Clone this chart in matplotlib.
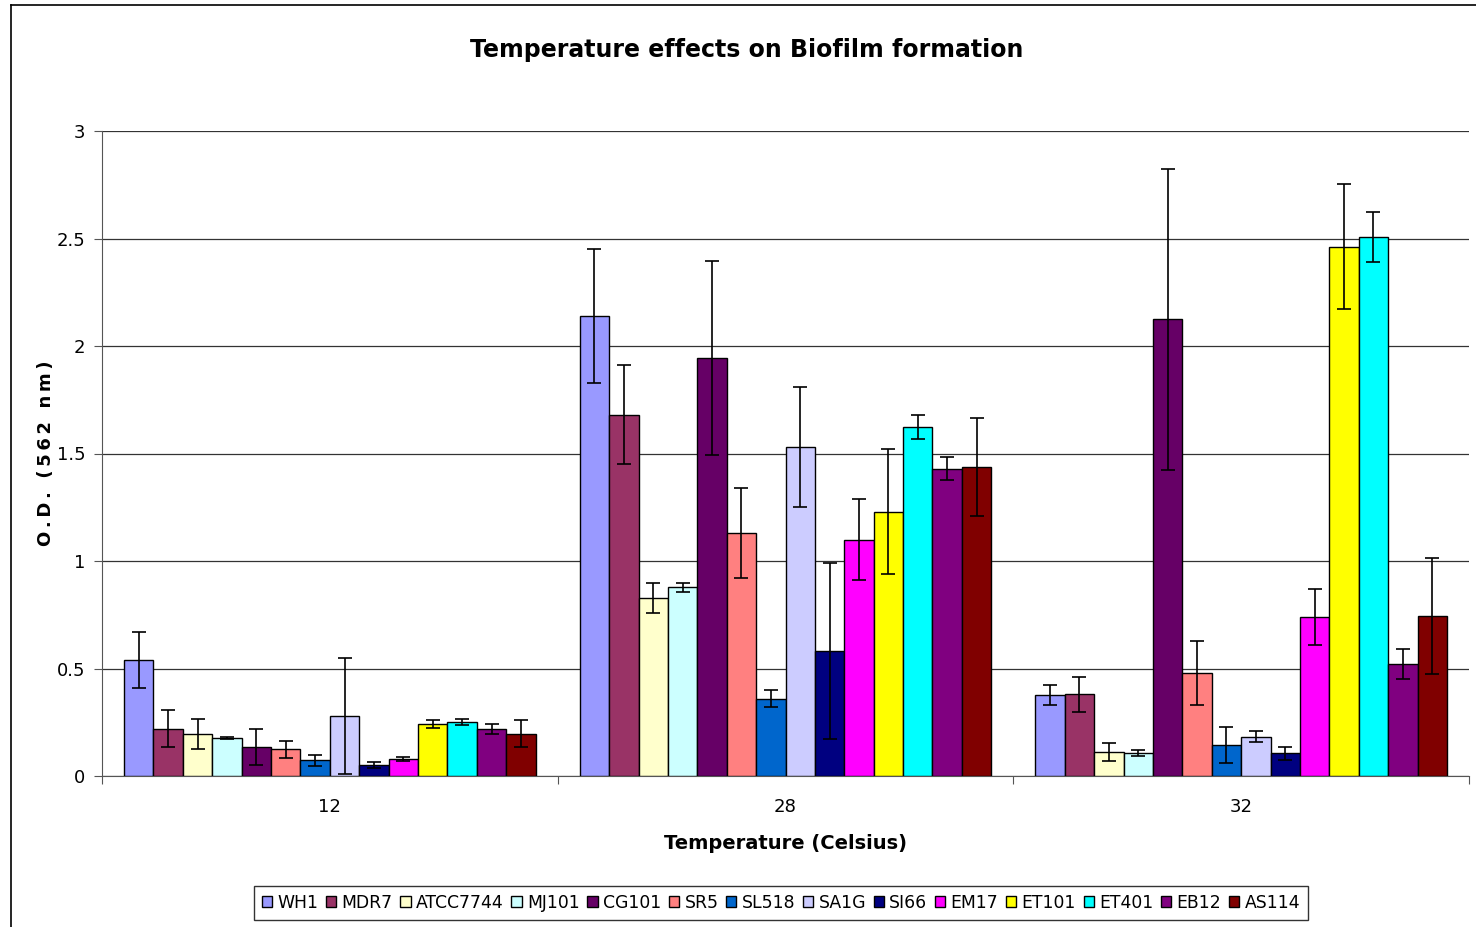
import numpy as np
import matplotlib
matplotlib.use("Agg")
import matplotlib.pyplot as plt
from matplotlib.lines import Line2D

temperatures = ["12", "28", "32"]
strains = ["WH1", "MDR7", "ATCC7744", "MJ101", "CG101", "SR5", "SL518",
           "SA1G", "SI66", "EM17", "ET101", "ET401", "EB12", "AS114"]
colors = ["#9999FF", "#993366", "#FFFFCC", "#CCFFFF", "#660066", "#FF8080", "#0066CC",
          "#CCCCFF", "#000080", "#FF00FF", "#FFFF00", "#00FFFF", "#800080", "#800000"]

# mean O.D. per strain at 12, 28, 32 C
od_means = {
    "WH1":      [0.54, 2.14, 0.375],
    "MDR7":     [0.22, 1.68, 0.38],
    "ATCC7744": [0.195, 0.83, 0.112],
    "MJ101":    [0.175, 0.877, 0.107],
    "CG101":    [0.135, 1.945, 2.125],
    "SR5":      [0.125, 1.13, 0.48],
    "SL518":    [0.073, 0.36, 0.145],
    "SA1G":     [0.28, 1.53, 0.183],
    "SI66":     [0.05, 0.58, 0.105],
    "EM17":     [0.08, 1.10, 0.738],
    "ET101":    [0.242, 1.23, 2.462],
    "ET401":    [0.25, 1.622, 2.508],
    "EB12":     [0.22, 1.43, 0.521],
    "AS114":    [0.197, 1.437, 0.745],
}
od_errors = {
    "WH1":      [0.13, 0.31, 0.047],
    "MDR7":     [0.085, 0.23, 0.08],
    "ATCC7744": [0.07, 0.07, 0.04],
    "MJ101":    [0.005, 0.022, 0.013],
    "CG101":    [0.084, 0.45, 0.70],
    "SR5":      [0.04, 0.21, 0.15],
    "SL518":    [0.025, 0.04, 0.085],
    "SA1G":     [0.27, 0.28, 0.024],
    "SI66":     [0.015, 0.41, 0.032],
    "EM17":     [0.01, 0.19, 0.13],
    "ET101":    [0.018, 0.29, 0.29],
    "ET401":    [0.015, 0.055, 0.116],
    "EB12":     [0.023, 0.055, 0.07],
    "AS114":    [0.063, 0.23, 0.27],
}

fig = plt.figure(figsize=(14.76, 9.27), dpi=100)
ax = fig.add_axes([102 / 1476, 151 / 927, 1367 / 1476, 645 / 927])

# outer chart frame (left and top edges visible)
fig.add_artist(Line2D([11 / 1476, 11 / 1476], [0, 1 - 5 / 927], color="black", lw=1.2))
fig.add_artist(Line2D([11 / 1476, 1], [1 - 5 / 927, 1 - 5 / 927], color="black", lw=1.2))

n = len(strains)
width = 1.0 / (n + 1.5)
x = np.arange(len(temperatures)) + 0.5
for i, (name, col) in enumerate(zip(strains, colors)):
    pos = x - n * width / 2 + (i + 0.5) * width
    ax.bar(pos, od_means[name], width, color=col, edgecolor="black", linewidth=1.0,
           label=name, zorder=3)
    ax.errorbar(pos, od_means[name], yerr=od_errors[name], fmt="none", ecolor="black",
                elinewidth=1.2, capsize=5, capthick=1.2, zorder=4)

ax.set_xlim(0, 3)
ax.set_ylim(0, 3)
ax.set_yticks([0, 0.5, 1, 1.5, 2, 2.5, 3])
ax.set_yticklabels(["0", "0.5", "1", "1.5", "2", "2.5", "3"])
ax.yaxis.grid(True, color="#333333", lw=0.9, zorder=0)
ax.set_xticks([0, 1, 2, 3])
ax.set_xticklabels([])
ax.set_xticks(x, minor=True)
ax.set_xticklabels(temperatures, minor=True)
ax.tick_params(axis="x", which="minor", length=0, pad=16, labelsize=13)
ax.tick_params(axis="x", which="major", length=6, color="#555555")
ax.tick_params(axis="y", length=6, color="#555555", labelsize=13, pad=6)
for s in ["top", "right"]:
    ax.spines[s].set_visible(False)
for s in ["left", "bottom"]:
    ax.spines[s].set_color("#555555")

ax.set_xlabel("Temperature (Celsius)", fontsize=14, fontweight="bold", labelpad=13)
ax.set_ylabel("\u2009".join("O.D. (562 nm)"), fontsize=13, fontweight="bold", labelpad=1)
fig.text(747 / 1476, 1 - 50 / 927, "Temperature effects on Biofilm formation",
         ha="center", va="center", fontsize=17, fontweight="bold")

leg = fig.legend(loc="center", bbox_to_anchor=(781 / 1476, 1 - 903 / 927), ncol=n,
                 frameon=True, fancybox=False, edgecolor="black",
                 handlelength=0.6, handleheight=0.6, handletextpad=0.3,
                 columnspacing=0.45, borderpad=0.45,
                 prop={"family": "DejaVu Sans", "size": 12.4})

fig.savefig("out.png", dpi=100)
